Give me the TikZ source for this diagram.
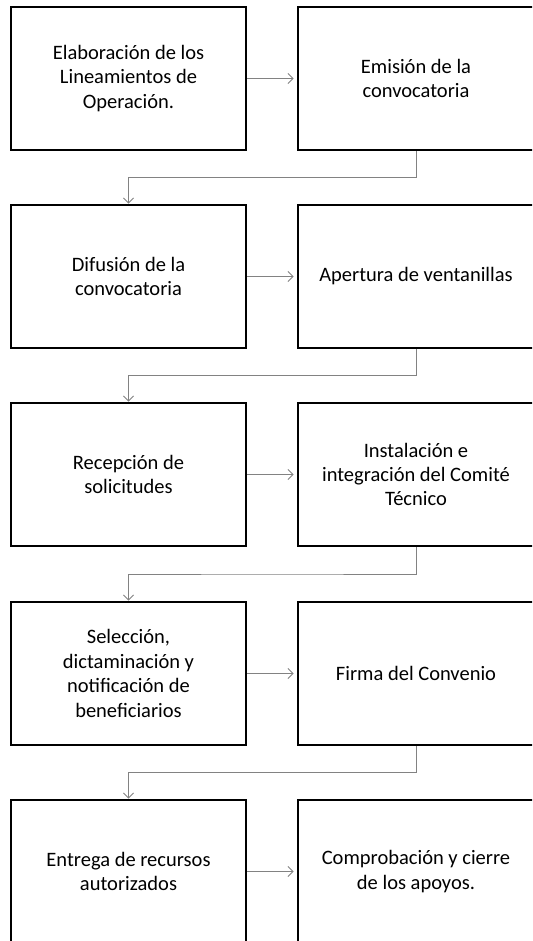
\documentclass[tikz,border=0pt]{standalone}
\usepackage{fontspec}
\setmainfont{Carlito}
\usetikzlibrary{arrows.meta,calc}
\definecolor{conngray}{RGB}{130,130,130}
\begin{document}
\begin{tikzpicture}[x=1pt,y=-1pt,
  stepbox/.style={draw=black,line width=2.8pt,rectangle,minimum width=235pt,minimum height=143pt,
    align=center,inner sep=0pt,font=\fontsize{20.5}{24.4}\selectfont,text=black},
  conn/.style={draw=conngray,line width=0.9pt,-{Straight Barb[length=5pt,width=10pt,line width=0.9pt]}}]
\useasboundingbox (0,0) rectangle (532,941);
\clip (0,0) rectangle (532,941);
\fill[white] (0,0) rectangle (532,941);
\node[stepbox] (l1) at (128.5,78.5) {Elaboración de los\\Lineamientos de\\Operación.};
\node[stepbox,minimum width=236pt] (r1) at (416,78.5) {Emisión de la\\convocatoria};
\node[stepbox] (l2) at (128.5,276.5) {Difusión de la\\convocatoria};
\node[stepbox,minimum width=236pt] (r2) at (416,276.5) {Apertura de ventanillas};
\node[stepbox] (l3) at (128.5,474.5) {Recepción de\\solicitudes};
\node[stepbox,minimum width=236pt] (r3) at (416,474.5) {Instalación e\\integración del Comité\\Técnico};
\node[stepbox] (l4) at (128.5,673.5) {Selección,\\dictaminación y\\notificación de\\beneficiarios};
\node[stepbox,minimum width=236pt] (r4) at (416,673.5) {Firma del Convenio};
\node[stepbox] (l5) at (128.5,871.5) {Entrega de recursos\\autorizados};
\node[stepbox,minimum width=236pt] (r5) at (416,871.5) {Comprobación y cierre\\de los apoyos.};
\foreach \i in {1,...,5}{
  \draw[conn,shorten >=3pt] (l\i.east) -- (r\i.west);
}
\foreach \i/\j in {1/2,2/3,3/4,4/5}{
  \draw[conn] (r\i.south) |- ($(r\i.south)!.5!(l\j.north)$) -| (l\j.north);
}
\end{tikzpicture}
\end{document}
